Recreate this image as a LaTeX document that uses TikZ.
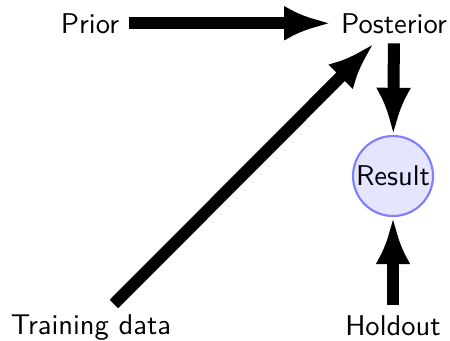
\documentclass[tikz,border=0pt]{standalone}
\usepackage{fontspec}
\usetikzlibrary{arrows.meta}
\tikzset{
  label text/.style={font=\sffamily, anchor=base},
  flow/.style={line width=4.2pt, -{Latex[length=16.5pt,width=12.25pt]}},
  result node/.style={circle, draw=blue!50, fill=blue!10, line width=0.75pt,
    inner sep=0pt, minimum size=28pt, font=\sffamily},
}
\begin{document}
\begin{tikzpicture}[x=0.35pt, y=-0.35pt]
  \useasboundingbox (0,0) rectangle (450,340);
  \node[label text] (prior) at (90,33) {Prior};
  \node[label text] (post) at (394,33) {Posterior};
  \node[label text] (train) at (91,334) {Training data};
  \node[label text] (hold) at (393,335) {Holdout};
  \node[result node] (res) at (393,176) {Result};

  \draw[flow] (prior) -- (post);
  \draw[flow] (train) -- (post);
  \draw[flow] (post) -- (res);
  \draw[flow] (hold) -- (res);
\end{tikzpicture}
\end{document}
